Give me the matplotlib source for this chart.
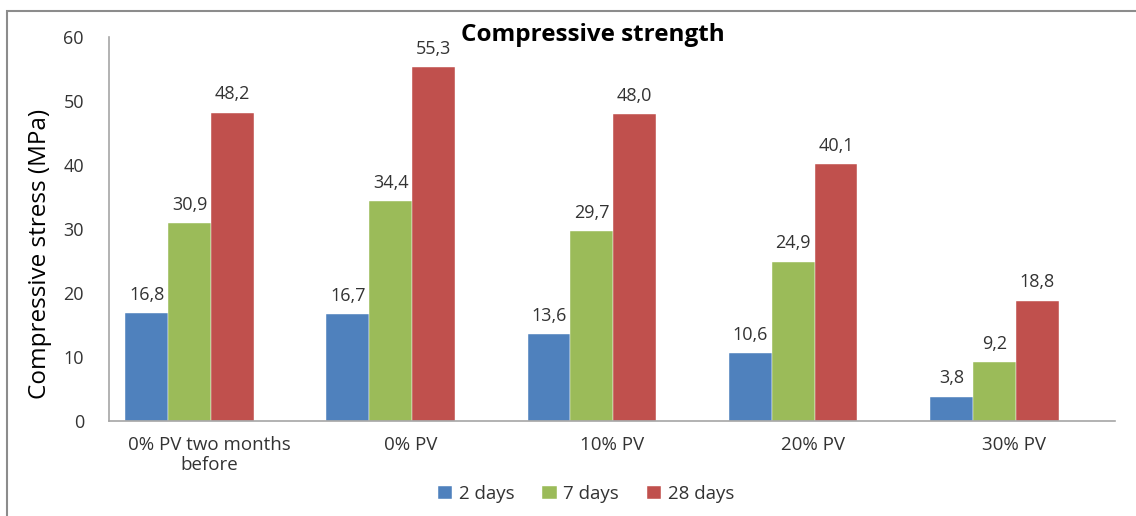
import matplotlib
matplotlib.use("Agg")
import matplotlib.pyplot as plt
from matplotlib.patches import Rectangle
import numpy as np

categories = ["0% PV two months\nbefore", "0% PV", "10% PV", "20% PV", "30% PV"]
series_names = ["2 days", "7 days", "28 days"]
days2 = [16.8, 16.7, 13.6, 10.6, 3.8]
days7 = [30.9, 34.4, 29.7, 24.9, 9.2]
days28 = [48.2, 55.3, 48.0, 40.1, 18.8]
colors = ["#4F81BD", "#9BBB59", "#C0504D"]

plt.rcParams['font.family'] = ['Open Sans', 'DejaVu Sans']

W, H = 1136, 516
fig = plt.figure(figsize=(W / 100, H / 100), dpi=100)
ax = fig.add_axes([109 / W, 1 - 421 / H, (1115 - 109) / W, (421 - 37) / H])

x = np.arange(len(categories))
bw = 0.213
shift = -0.1
for k, (vals, c, name) in enumerate(zip([days2, days7, days28], colors, series_names)):
    xs = x + shift + (k - 1) * bw
    ax.bar(xs, vals, width=bw, color=c, label=name, edgecolor='white', linewidth=0.3)
    for xi, v in zip(xs, vals):
        ax.annotate(f"{v:.1f}".replace('.', ','), (xi, v), xytext=(0, 9.5),
                    textcoords='offset points', ha='center', va='baseline',
                    fontsize=13, color='#333333')

ax.set_xlim(-0.5, len(categories) - 0.5)
ax.set_ylim(0, 60)
ax.set_yticks(range(0, 61, 10))
ax.set_xticks(x)
ax.set_xticklabels(categories, fontsize=13.5, color='#333333', linespacing=1.1)
ax.tick_params(axis='y', length=0, pad=18, labelsize=13, labelcolor='#333333')
ax.tick_params(axis='x', length=0, pad=11)
for s in ['top', 'right']:
    ax.spines[s].set_visible(False)
ax.spines['left'].set_color('#A6A6A6')
ax.spines['bottom'].set_color('#A6A6A6')
ax.spines['left'].set_linewidth(1.2)
ax.spines['bottom'].set_linewidth(1.2)

fig.text(40 / W, 1 - 254 / H, "Compressive stress (MPa)", rotation=90,
         ha='center', va='center', fontsize=17.5, color='black')
fig.text(593 / W, 1 - 35 / H, "Compressive strength", ha='center', va='center',
         fontsize=17.5, fontweight='bold', color='black')

fig.legend(loc='center', bbox_to_anchor=(586 / W, 1 - 494 / H), ncol=3,
           frameon=False, fontsize=13.5, handlelength=0.75, handleheight=0.75,
           handletextpad=0.35, columnspacing=1.5, labelcolor='#333333')

fig.patches.append(Rectangle((7 / W, -0.1), 1.2, 1.1 - 11 / H, transform=fig.transFigure,
                             fill=False, edgecolor='#8C8C8C', linewidth=1.5))

fig.savefig("out.png", dpi=100)
